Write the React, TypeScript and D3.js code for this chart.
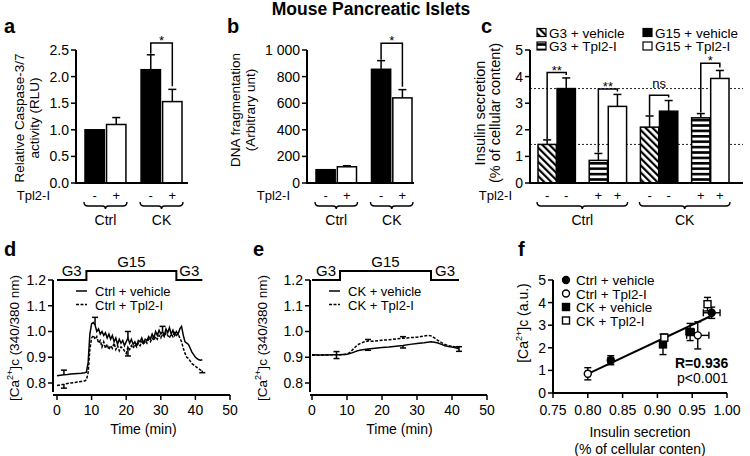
import React from "react";
import * as d3 from "d3";

const FONT = "'Liberation Sans', Arial, Helvetica, sans-serif";

// shared categories for a, b
const groupNames = ["Ctrl", "CK"];
const tplSigns = ["-", "+"];

// a: caspase-3/7 activity
const caspaseMean = [1.0, 1.1, 2.13, 1.53];
const caspaseErr = [0, 0.13, 0.28, 0.23];
const caspaseTicks = [0, 0.5, 1.0, 1.5, 2.0, 2.5];

// b: DNA fragmentation
const dnaMean = [100, 122, 855, 640];
const dnaErr = [0, 8, 65, 62];
const dnaTicks = [0, 200, 400, 600, 800, 1000];

// c: insulin secretion
const insulinConds = ["G3 + vehicle", "G15 + vehicle", "G3 + Tpl2-I", "G15 + Tpl2-I"];
const insulinFills = ["url(#diag)", "#000", "url(#hstripe)", "#fff"];
const insulinTpl = ["-", "-", "+", "+"];
const insulinCtrlMean = [1.45, 3.55, 0.85, 2.88];
const insulinCtrlErr = [0.17, 0.4, 0.26, 0.45];
const insulinCKMean = [2.1, 2.7, 2.45, 3.93];
const insulinCKErr = [0.42, 0.4, 0.16, 0.3];
const insulinTicks = [0, 1, 2, 3, 4, 5];
const insulinRefLines = [3.55, 1.45];
const insulinSigTop = [4.15, 3.53, 3.3, 4.5];
const insulinSigLabel = ["**", "**", "ns", "*"];

// d, e: calcium traces [time (min), ratio]
const traceTicks = [0.8, 0.9, 1.0, 1.1, 1.2];
const timeTicks = [0, 10, 20, 30, 40, 50];

const ctrlVehicleTrace: [number, number][] = [
  [0, 0.828], [1, 0.83], [2, 0.832], [3, 0.833], [4, 0.835], [5, 0.836], [6, 0.837], [7, 0.838], [8, 0.84],
  [8.5, 0.842], [9, 0.88], [9.5, 0.99], [10, 1.03], [10.5, 1.035], [11, 1.025], [11.5, 1.0], [12, 1.01],
  [12.5, 0.99], [13, 1.0], [13.5, 0.985], [14, 0.995], [14.5, 0.975], [15, 0.99], [15.5, 0.97], [16, 0.985],
  [16.5, 0.96], [17, 0.975], [17.5, 0.95], [18, 0.97], [18.5, 0.955], [19, 0.965], [19.5, 0.945], [20, 0.96],
  [20.5, 0.975], [21, 0.955], [21.5, 0.97], [22, 0.95], [22.5, 0.96], [23, 0.945], [23.5, 0.965], [24, 0.96],
  [24.5, 0.975], [25, 0.955], [25.5, 0.97], [26, 0.965], [26.5, 0.98], [27, 0.97], [27.5, 0.99], [28, 0.975],
  [28.5, 1.0], [29, 0.985], [29.5, 1.005], [30, 0.99], [30.5, 1.0], [31, 0.985], [31.5, 1.01], [32, 0.995],
  [32.5, 1.015], [33, 0.99], [33.5, 1.005], [34, 0.985], [34.5, 1.0], [35, 0.99], [35.5, 1.01], [36, 1.02],
  [36.5, 0.985], [37, 0.96], [37.5, 0.955], [38, 0.95], [38.5, 0.935], [39, 0.92], [39.5, 0.91], [40, 0.9],
  [40.5, 0.895], [41, 0.89], [41.5, 0.888], [42, 0.89],
];
const ctrlTplTrace: [number, number][] = [
  [0, 0.79], [1, 0.793], [2, 0.795], [3, 0.798], [4, 0.8], [5, 0.802], [6, 0.804], [7, 0.806], [8, 0.808],
  [8.5, 0.812], [9, 0.84], [9.5, 0.93], [10, 0.975], [10.5, 0.985], [11, 0.97], [11.5, 0.98], [12, 0.955],
  [12.5, 0.965], [13, 0.94], [13.5, 0.96], [14, 0.935], [14.5, 0.95], [15, 0.93], [15.5, 0.945], [16, 0.935],
  [16.5, 0.955], [17, 0.93], [17.5, 0.945], [18, 0.925], [18.5, 0.94], [19, 0.935], [19.5, 0.925], [20, 0.915],
  [20.5, 0.94], [21, 0.93], [21.5, 0.945], [22, 0.935], [22.5, 0.95], [23, 0.94], [23.5, 0.955], [24, 0.945],
  [24.5, 0.96], [25, 0.95], [25.5, 0.965], [26, 0.955], [26.5, 0.97], [27, 0.96], [27.5, 0.975], [28, 0.965],
  [28.5, 0.98], [29, 0.97], [29.5, 0.985], [30, 0.975], [30.5, 0.99], [31, 0.98], [31.5, 0.995], [32, 0.985],
  [32.5, 0.975], [33, 0.99], [33.5, 0.98], [34, 0.995], [34.5, 0.985], [35, 0.99], [35.5, 0.975], [36, 0.96],
  [36.5, 0.935], [37, 0.915], [37.5, 0.9], [38, 0.895], [38.5, 0.885], [39, 0.875], [39.5, 0.87], [40, 0.865],
  [40.5, 0.86], [41, 0.855], [41.5, 0.85], [42, 0.848],
];
// [time, value, error (+ up / - down)]
const ctrlErrBars: [number, number, number][] = [
  [2, 0.832, 0.018], [11, 1.025, 0.03], [20.5, 0.975, 0.025], [30.5, 1.0, 0.02],
  [2, 0.795, -0.015], [20.5, 0.94, -0.035], [42, 0.848, -0.008],
];

const ckVehicleTrace: [number, number][] = [
  [0, 0.91], [2, 0.909], [4, 0.909], [6, 0.91], [8, 0.91], [10, 0.912], [11, 0.915], [12, 0.92], [13, 0.925],
  [14, 0.928], [15, 0.93], [16, 0.932], [18, 0.935], [20, 0.938], [22, 0.94], [24, 0.943], [26, 0.946],
  [28, 0.95], [30, 0.953], [32, 0.956], [34, 0.96], [35, 0.958], [36, 0.955], [37, 0.95], [38, 0.945],
  [39, 0.942], [40, 0.94], [41, 0.937], [42, 0.933],
];
const ckTplTrace: [number, number][] = [
  [0, 0.908], [2, 0.908], [4, 0.909], [6, 0.91], [8, 0.91], [10, 0.912], [11, 0.92], [12, 0.935], [13, 0.948],
  [14, 0.955], [15, 0.96], [16, 0.963], [17, 0.962], [18, 0.963], [20, 0.966], [22, 0.968], [24, 0.971],
  [26, 0.974], [28, 0.976], [30, 0.978], [32, 0.982], [33, 0.985], [34, 0.983], [35, 0.975], [36, 0.965],
  [37, 0.957], [38, 0.95], [39, 0.945], [40, 0.942], [41, 0.94], [42, 0.938],
];
const ckErrBars: [number, number, number][] = [
  [7, 0.91, 0.012], [7, 0.91, -0.015], [16, 0.963, 0.006], [16, 0.932, -0.005],
  [26, 0.974, 0.006], [26, 0.946, -0.01], [42, 0.933, 0.008], [42, 0.933, -0.01],
];

// f: scatter
const fGroups = ["Ctrl + vehicle", "Ctrl + Tpl2-I", "CK + vehicle", "CK + Tpl2-I"];
const fPointGroup = [0, 0, 1, 1, 2, 2, 3, 3];
const fPointX = [0.833, 0.978, 0.8, 0.958, 0.908, 0.947, 0.91, 0.972];
const fPointY = [1.45, 3.55, 0.85, 2.55, 2.15, 2.7, 2.45, 3.93];
const fPointXErr = [0.004, 0.012, 0.003, 0.016, 0.002, 0.006, 0.003, 0.004];
const fPointYErr = [0.2, 0.25, 0.27, 0.6, 0.45, 0.38, 0.15, 0.3];
const fFitX = [0.8, 0.98];
const fFitY = [0.85, 3.45];
const fXTicks = [0.75, 0.8, 0.85, 0.9, 0.95, 1.0];
const fYTicks = [0, 1, 2, 3, 4, 5];

function YAxis({ x, y, ticks, fmt, top, bottom }: any) {
  return (
    <g>
      <line x1={x} x2={x} y1={bottom} y2={top} stroke="#000" strokeWidth={2} />
      {ticks.map((t: number) => (
        <g key={t}>
          <line x1={x - 5} x2={x} y1={y(t)} y2={y(t)} stroke="#000" strokeWidth={1.5} />
          <text x={x - 7} y={y(t)} dy="0.35em" textAnchor="end" fontSize={14}>
            {fmt(t)}
          </text>
        </g>
      ))}
    </g>
  );
}

function Brace({ x1, x2, y }: { x1: number; x2: number; y: number }) {
  const c = (x1 + x2) / 2;
  const d = `M${x1},${y - 4}Q${x1},${y} ${x1 + 4},${y}L${c - 3},${y}Q${c},${y} ${c},${y + 3}Q${c},${y} ${c + 3},${y}L${x2 - 4},${y}Q${x2},${y} ${x2},${y - 4}`;
  return <path d={d} fill="none" stroke="#000" strokeWidth={1.4} />;
}

function ErrUp({ cx, y1, y2, w = 8 }: any) {
  return (
    <g stroke="#000" strokeWidth={1.5}>
      <line x1={cx} x2={cx} y1={y1} y2={y2} />
      <line x1={cx - w / 2} x2={cx + w / 2} y1={y2} y2={y2} />
    </g>
  );
}

function VLabel({ x, y, lines, size = 13.5 }: any) {
  return (
    <g>
      {lines.map((l: string, i: number) => (
        <text key={i} transform={`translate(${x[i]},${y}) rotate(-90)`} dy="0.35em" textAnchor="middle" fontSize={size}>
          {l}
        </text>
      ))}
    </g>
  );
}

function GroupedBars(c: any) {
  const y = d3.scaleLinear([0, c.yMax], [183, 50]);
  const outer = d3.scaleBand(groupNames, c.band).paddingInner(0.27);
  const inner = d3.scaleBand(tplSigns, [0, outer.bandwidth()]).paddingInner(0.1);
  const bars = groupNames.flatMap((g, gi) =>
    tplSigns.map((s, si) => {
      const i = gi * 2 + si;
      const x = (outer(g) as number) + (inner(s) as number);
      return { key: g + s, s, x, w: inner.bandwidth(), cx: x + inner.bandwidth() / 2, v: c.means[i], e: c.errs[i], fill: si === 0 ? "#000" : "#fff" };
    })
  );
  const b2 = bars[2];
  const b3 = bars[3];
  const top = y(c.sigTop);
  return (
    <g>
      <text x={c.letterX} y={33} fontSize={20} fontWeight="bold">{c.letter}</text>
      <VLabel x={c.labelX} y={c.labelY} lines={c.label} />
      {bars.map((b) => (
        <g key={b.key}>
          <rect x={b.x} y={y(b.v)} width={b.w} height={y(0) - y(b.v)} fill={b.fill} stroke="#000" strokeWidth={1.5} />
          {b.e > 0 && <ErrUp cx={b.cx} y1={y(b.v)} y2={y(b.v + b.e)} />}
          <text x={b.cx} y={200} textAnchor="middle" fontSize={13}>{b.s}</text>
        </g>
      ))}
      <YAxis x={c.axisX} y={y} ticks={c.ticks} fmt={c.fmt} top={50} bottom={183} />
      <line x1={c.axisX - 1} x2={c.xEnd} y1={183} y2={183} stroke="#000" strokeWidth={2} />
      <path
        d={`M${b2.cx},${y(b2.v + b2.e) - 1}V${top}H${b3.cx}V${y(b3.v + b3.e) - 3}`}
        fill="none"
        stroke="#000"
        strokeWidth={1.5}
      />
      <text x={(b2.cx + b3.cx) / 2} y={top + 2} textAnchor="middle" fontSize={13}>*</text>
      <text x={c.tplX} y={200} textAnchor="end" fontSize={13}>Tpl2-I</text>
      {groupNames.map((g) => {
        const gx = outer(g) as number;
        return (
          <g key={g}>
            <Brace x1={gx - 1} x2={gx + outer.bandwidth() + 1} y={206} />
            <text x={gx + outer.bandwidth() / 2} y={225} textAnchor="middle" fontSize={14}>{g}</text>
          </g>
        );
      })}
    </g>
  );
}

function PanelC() {
  const axisX = 530;
  const xEnd = 743;
  const y = d3.scaleLinear([0, 5], [183, 50]);
  const pairKeys = ["Ctrl vehicle", "Ctrl Tpl2-I", "CK vehicle", "CK Tpl2-I"];
  const pairs = d3.scaleBand(pairKeys, [538, 729]).paddingInner(0.27);
  const inner = d3.scaleBand(["G3", "G15"], [0, pairs.bandwidth()]).paddingInner(0.04);
  const bars = groupNames.flatMap((g, gi) =>
    insulinConds.map((cond, ci) => {
      const pk = pairKeys[gi * 2 + Math.floor(ci / 2)];
      const x = (pairs(pk) as number) + (inner(ci % 2 === 0 ? "G3" : "G15") as number);
      const mean = gi === 0 ? insulinCtrlMean[ci] : insulinCKMean[ci];
      const err = gi === 0 ? insulinCtrlErr[ci] : insulinCKErr[ci];
      return { key: g + cond, x, w: inner.bandwidth(), cx: x + inner.bandwidth() / 2, v: mean, e: err, fill: insulinFills[ci], s: insulinTpl[ci] };
    })
  );
  const legendPos = [
    [537, 37.5],
    [643, 37.5],
    [537, 51],
    [643, 51],
  ];
  return (
    <g>
      <text x={481} y={33} fontSize={20} fontWeight="bold">c</text>
      <VLabel x={[480, 495]} y={113} lines={["Insulin secretion", "(% of cellular content)"]} size={14.5} />
      {insulinConds.map((cond, i) => (
        <g key={cond}>
          <rect x={legendPos[i][0]} y={legendPos[i][1] - 9} width={9} height={8} fill={insulinFills[i]} stroke="#000" strokeWidth={1.2} />
          <text x={legendPos[i][0] + 12} y={legendPos[i][1]} fontSize={13.5}>{cond}</text>
        </g>
      ))}
      {insulinRefLines.map((v) => (
        <line key={v} x1={axisX} x2={xEnd} y1={y(v)} y2={y(v)} stroke="#222" strokeWidth={1} strokeDasharray="2,2" />
      ))}
      {bars.map((b) => (
        <g key={b.key}>
          <rect x={b.x} y={y(b.v)} width={b.w} height={y(0) - y(b.v)} fill={b.fill} stroke="#000" strokeWidth={1.5} />
          <ErrUp cx={b.cx} y1={y(b.v)} y2={y(b.v + b.e)} />
          <text x={b.cx} y={200} textAnchor="middle" fontSize={13}>{b.s}</text>
        </g>
      ))}
      {pairKeys.map((pk, pi) => {
        const l = bars[pi * 2];
        const r = bars[pi * 2 + 1];
        const top = y(insulinSigTop[pi]);
        const lab = insulinSigLabel[pi];
        return (
          <g key={pk}>
            <path d={`M${l.cx},${y(l.v + l.e) - 1}V${top}H${r.cx}V${y(r.v + r.e) - 3}`} fill="none" stroke="#000" strokeWidth={1.5} />
            <text x={(l.cx + r.cx) / 2} y={lab === "ns" ? top - 7 : top + 2} textAnchor="middle" fontSize={13}>{lab}</text>
          </g>
        );
      })}
      <YAxis x={axisX} y={y} ticks={insulinTicks} fmt={(v: number) => String(v)} top={50} bottom={183} />
      <line x1={axisX - 1} x2={xEnd} y1={183} y2={183} stroke="#000" strokeWidth={2} />
      <text x={512} y={200} textAnchor="end" fontSize={13}>Tpl2-I</text>
      {groupNames.map((g, gi) => {
        const x1 = pairs(pairKeys[gi * 2]) as number;
        const x2 = (pairs(pairKeys[gi * 2 + 1]) as number) + pairs.bandwidth();
        return (
          <g key={g}>
            <Brace x1={x1 - 1} x2={x2 + 1} y={206} />
            <text x={(x1 + x2) / 2} y={225} textAnchor="middle" fontSize={14}>{g}</text>
          </g>
        );
      })}
    </g>
  );
}

function TracePanel(p: any) {
  const x = d3.scaleLinear([0, 50], p.xRange);
  const y = d3.scaleLinear([0.8, 1.2], [383, 280]);
  const line = d3.line<[number, number]>().x((d) => x(d[0])).y((d) => y(d[1]));
  const [t0, tUp, tDown, tEnd] = p.protocol;
  const lowY = 280;
  const highY = 271;
  const baseY = 395;
  return (
    <g>
      <text x={p.letterX} y={256} fontSize={20} fontWeight="bold">{p.letter}</text>
      <text transform={`translate(${p.labelX},338) rotate(-90)`} dy="0.35em" textAnchor="middle" fontSize={13.5}>
        [Ca<tspan fontSize={9} dy={-6}>2+</tspan>
        <tspan dy={6}>]c (340/380 nm)</tspan>
      </text>
      <YAxis x={p.axisX} y={y} ticks={traceTicks} fmt={d3.format(".1f")} top={280} bottom={392} />
      <line x1={p.axisX} x2={x(50)} y1={baseY} y2={baseY} stroke="#000" strokeWidth={2} />
      {timeTicks.map((t) => (
        <g key={t}>
          <line x1={x(t)} x2={x(t)} y1={baseY} y2={baseY + 5} stroke="#000" strokeWidth={1.5} />
          <text x={x(t)} y={415} textAnchor="middle" fontSize={14}>{t}</text>
        </g>
      ))}
      <text x={(x(0) + x(50)) / 2} y={434} textAnchor="middle" fontSize={14}>Time (min)</text>
      <path d={`M${x(t0)},${lowY}H${x(tUp)}V${highY}H${x(tDown)}V${lowY}H${x(tEnd)}`} fill="none" stroke="#000" strokeWidth={2} />
      <text x={(x(t0) + x(tUp)) / 2} y={276} textAnchor="middle" fontSize={15}>G3</text>
      <text x={(x(tUp) + x(tDown)) / 2} y={267} textAnchor="middle" fontSize={15}>G15</text>
      <text x={(x(tDown) + x(tEnd)) / 2} y={276} textAnchor="middle" fontSize={15}>G3</text>
      <path d={line(p.solid) || ""} fill="none" stroke="#000" strokeWidth={1.5} />
      <path d={line(p.dashed) || ""} fill="none" stroke="#000" strokeWidth={1.5} strokeDasharray="3,1.5" />
      {p.errs.map((e: [number, number, number], i: number) => (
        <ErrUp key={i} cx={x(e[0])} y1={y(e[1])} y2={y(e[1] + e[2])} w={6} />
      ))}
      <line x1={p.legendX} x2={p.legendX + 11} y1={291} y2={291} stroke="#000" strokeWidth={1.5} />
      <line x1={p.legendX} x2={p.legendX + 11} y1={304.5} y2={304.5} stroke="#000" strokeWidth={1.5} strokeDasharray="3,1.5" />
      <text x={p.legendX + 19} y={296} fontSize={13}>{p.legend[0]}</text>
      <text x={p.legendX + 19} y={309.5} fontSize={13}>{p.legend[1]}</text>
    </g>
  );
}

function Marker({ kind, cx, cy }: { kind: number; cx: number; cy: number }) {
  const fill = kind % 2 === 0 ? "#000" : "#fff";
  if (kind < 2) return <circle cx={cx} cy={cy} r={3.5} fill={fill} stroke="#000" strokeWidth={1.4} />;
  return <rect x={cx - 3.5} y={cy - 3.5} width={7} height={7} fill={fill} stroke="#000" strokeWidth={1.4} />;
}

function PanelF() {
  const x = d3.scaleLinear([0.75, 1.0], [553, 727]);
  const y = d3.scaleLinear([0, 5], [393, 280]);
  const rows = [280, 293.5, 307, 320.5];
  return (
    <g>
      <text x={518} y={256} fontSize={20} fontWeight="bold">f</text>
      <text transform={`translate(523,323) rotate(-90)`} dy="0.35em" textAnchor="middle" fontSize={14}>
        [Ca<tspan fontSize={9} dy={-6}>2+</tspan>
        <tspan dy={6}>]c (a.u.)</tspan>
      </text>
      <YAxis x={553} y={y} ticks={fYTicks} fmt={(v: number) => String(v)} top={280} bottom={393} />
      <line x1={552} x2={727} y1={393} y2={393} stroke="#000" strokeWidth={2} />
      {fXTicks.map((t) => (
        <g key={t}>
          <line x1={x(t)} x2={x(t)} y1={393} y2={398} stroke="#000" strokeWidth={1.5} />
          <text x={x(t)} y={415} textAnchor="middle" fontSize={14}>{d3.format(".2f")(t)}</text>
        </g>
      ))}
      <text x={640} y={437} textAnchor="middle" fontSize={14}>Insulin secretion</text>
      <text x={640} y={454} textAnchor="middle" fontSize={14}>(% of cellular conten)</text>
      <line x1={x(fFitX[0])} x2={x(fFitX[1])} y1={y(fFitY[0])} y2={y(fFitY[1])} stroke="#000" strokeWidth={2} />
      {fPointX.map((px, i) => {
        const cx = x(px);
        const cy = y(fPointY[i]);
        const ye1 = y(fPointY[i] - fPointYErr[i]);
        const ye2 = y(fPointY[i] + fPointYErr[i]);
        const xe1 = x(px - fPointXErr[i]);
        const xe2 = x(px + fPointXErr[i]);
        return (
          <g key={i} stroke="#000" strokeWidth={1.4}>
            <line x1={cx} x2={cx} y1={ye1} y2={ye2} />
            <line x1={cx - 3.5} x2={cx + 3.5} y1={ye1} y2={ye1} />
            <line x1={cx - 3.5} x2={cx + 3.5} y1={ye2} y2={ye2} />
            <line x1={xe1} x2={xe2} y1={cy} y2={cy} />
            <line x1={xe1} x2={xe1} y1={cy - 3.5} y2={cy + 3.5} />
            <line x1={xe2} x2={xe2} y1={cy - 3.5} y2={cy + 3.5} />
            <Marker kind={fPointGroup[i]} cx={cx} cy={cy} />
          </g>
        );
      })}
      {fGroups.map((g, i) => (
        <g key={g}>
          <Marker kind={i} cx={566} cy={rows[i]} />
          <text x={576} y={rows[i] + 5} fontSize={13.5}>{g}</text>
        </g>
      ))}
      <text x={675} y={368} fontSize={14} fontWeight="bold">R=0.936</text>
      <text x={677} y={383} fontSize={14}>p&lt;0.001</text>
    </g>
  );
}

export default function App() {
  return (
    <svg width={750} height={456} style={{ position: "absolute", left: 0, top: 0 }} fontFamily={FONT}>
      <defs>
        <pattern id="diag" patternUnits="userSpaceOnUse" width={5} height={5} patternTransform="rotate(-45)">
          <rect width={5} height={5} fill="#fff" />
          <rect width={2.2} height={5} fill="#000" />
        </pattern>
        <pattern id="hstripe" patternUnits="userSpaceOnUse" width={10} height={5.4}>
          <rect width={10} height={5.4} fill="#fff" />
          <rect width={10} height={2.6} fill="#000" />
        </pattern>
      </defs>
      <rect width={750} height={456} fill="#fff" />
      <text x={371} y={15} textAnchor="middle" fontWeight="bold" fontSize={17.5}>Mouse Pancreatic Islets</text>
      <GroupedBars
        letter="a"
        letterX={4}
        axisX={76}
        xEnd={188}
        band={[85, 182]}
        yMax={2.5}
        ticks={caspaseTicks}
        fmt={d3.format(".1f")}
        means={caspaseMean}
        errs={caspaseErr}
        sigTop={2.63}
        label={["Relative Caspase-3/7", "activity (RLU)"]}
        labelX={[19, 34]}
        labelY={118}
        tplX={50}
      />
      <GroupedBars
        letter="b"
        letterX={227}
        axisX={307}
        xEnd={414}
        band={[316, 412]}
        yMax={1000}
        ticks={dnaTicks}
        fmt={(v: number) => (v === 1000 ? "1 000" : String(v))}
        means={dnaMean}
        errs={dnaErr}
        sigTop={1050}
        label={["DNA fragmentation", "(Arbitrary unt)"]}
        labelX={[235, 250]}
        labelY={110}
        tplX={290}
      />
      <PanelC />
      <TracePanel
        letter="d"
        letterX={4}
        axisX={53}
        xRange={[57, 230]}
        solid={ctrlVehicleTrace}
        dashed={ctrlTplTrace}
        errs={ctrlErrBars}
        protocol={[0, 8.5, 34.5, 42]}
        legend={["Ctrl + vehicle", "Ctrl + Tpl2-I"]}
        legendX={76}
        labelX={14}
      />
      <TracePanel
        letter="e"
        letterX={253}
        axisX={310}
        xRange={[312, 487]}
        solid={ckVehicleTrace}
        dashed={ckTplTrace}
        errs={ckErrBars}
        protocol={[0, 8, 34, 42]}
        legend={["CK + vehicle", "CK + Tpl2-I"]}
        legendX={329}
        labelX={262}
      />
      <PanelF />
    </svg>
  );
}
